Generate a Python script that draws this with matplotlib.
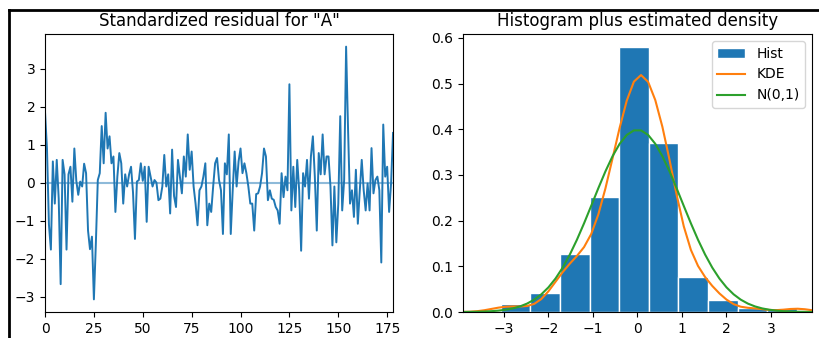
import numpy as np
import matplotlib
matplotlib.use("Agg")
import matplotlib.pyplot as plt
from matplotlib.lines import Line2D

# standardized residuals (index 0..178)
resid = [
    1.86, 0.90, -1.10, -1.76, 0.56, -0.55, 0.60, -0.42, -2.67, 0.60,
    0.22, -1.76, 0.22, 0.42, -0.50, 0.90, 0.05, -0.32, 0.03, -0.10,
    0.50, 0.25, -1.26, -1.75, -1.42, -3.07, -1.60, 0.07, 0.25, 1.49,
    0.51, 1.84, 0.90, 1.22, 0.51, 0.69, -0.77, 0.16, 0.78, 0.51,
    -0.55, 0.22, -0.10, 0.22, 0.42, -0.25, -1.48, 0.03, 0.07, 0.51,
    0.05, 0.42, -1.03, 0.42, 0.16, -0.10, 0.07, 0.00, -0.46, -0.42,
    -0.10, 0.73, -0.10, 0.22, -0.81, 0.87, -0.35, -0.64, 0.60, 0.16,
    -0.28, 0.69, 0.16, 1.27, 0.34, 0.82, -0.10, -0.55, -1.12, -0.20,
    -0.10, 0.16, 0.51, -1.12, -0.55, -0.77, -0.10, 0.51, 0.65, 0.07,
    -0.20, -1.35, 0.51, 0.22, 1.27, -1.35, -0.20, 0.82, -0.10, 0.56,
    0.90, 0.25, 0.51, 0.25, -0.10, -0.55, -0.55, -1.26, -0.30, -0.28,
    -0.10, 0.25, 0.90, 0.69, -0.46, -0.20, -0.42, -0.45, -0.64, -0.73,
    -1.08, 0.25, -0.38, 0.16, -0.20, 2.59, -0.73, 0.42, -0.64, 0.60,
    -0.20, -1.79, 0.25, -0.10, 0.60, -0.42, 0.69, 1.22, 0.16, -1.26,
    0.78, 0.22, 1.27, 0.22, 0.69, 0.69, -0.10, -1.65, -0.10, -1.57,
    -0.55, 1.75, -0.73, 0.07, 3.58, 1.40, -0.55, -0.20, -0.90, 0.34,
    -1.08, -0.20, 0.60, -0.20, -0.73, -0.02, -0.73, 0.91, -0.28, 0.07,
    0.16, -0.20, -2.10, 1.53, 0.16, 0.42, -0.77, -0.02, 1.31,
]
resid = np.array(resid)
ix = np.arange(len(resid))

fig = plt.figure(figsize=(8.2, 3.38), dpi=100)

# left: residual series
ax1 = fig.add_axes([0.0549, 0.0769, 0.4244, 0.8225])
ax1.plot(ix, resid, lw=1.4)
ax1.hlines(0, ix[0], ix[-1], alpha=0.5)
ax1.set_xlim(ix[0], ix[-1])
ax1.set_title('Standardized residual for "A"')

# right: histogram + kde + normal
ax2 = fig.add_axes([0.5646, 0.0769, 0.4256, 0.8225])
ax2.hist(resid, density=True, label='Hist', edgecolor='#FFFFFF')

xlim = (-1.96 * 2, 1.96 * 2)
x = np.linspace(xlim[0], xlim[1])
h = resid.std(ddof=1) * len(resid) ** (-1 / 5)  # scott bandwidth
kde = np.exp(-0.5 * ((x[:, None] - resid[None, :]) / h) ** 2).sum(axis=1)
kde = kde / (len(resid) * h * np.sqrt(2 * np.pi))
ax2.plot(x, kde, label='KDE')
ax2.plot(x, np.exp(-0.5 * x ** 2) / np.sqrt(2 * np.pi), label='N(0,1)')
ax2.set_xlim(xlim)
ax2.legend()
ax2.set_title('Histogram plus estimated density')

# screenshot frame lines on top and left
fig.add_artist(Line2D([8.5 / 820, 1], [1 - 9.5 / 338] * 2, color='black', lw=2, transform=fig.transFigure))
fig.add_artist(Line2D([8.5 / 820] * 2, [0, 1 - 9.5 / 338], color='black', lw=2, transform=fig.transFigure))

fig.savefig('out.png', dpi=100)
